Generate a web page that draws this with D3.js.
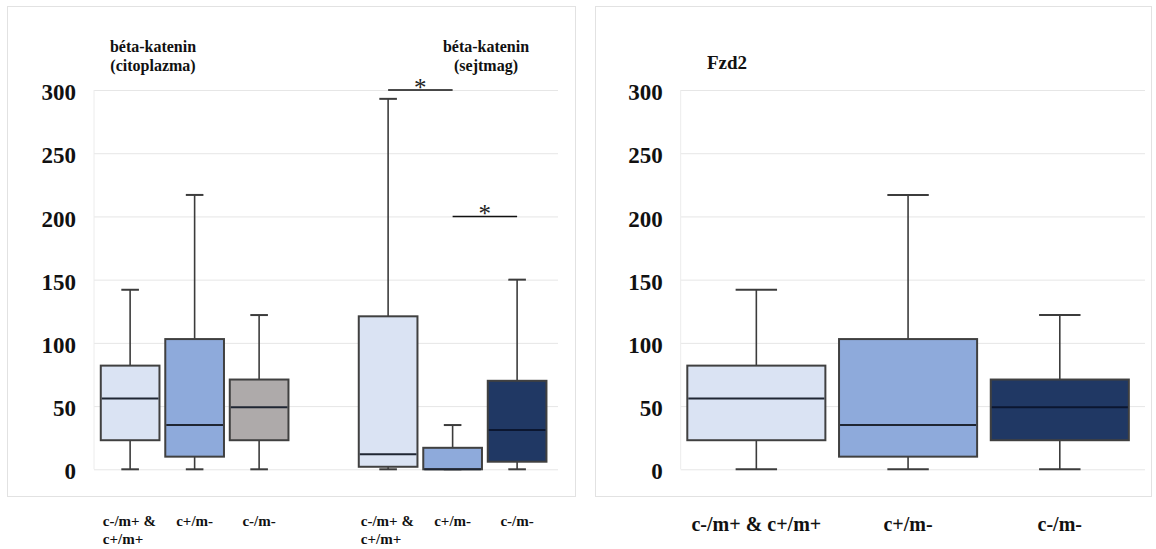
<!DOCTYPE html>
<html>
<head>
<meta charset="utf-8">
<script src="https://d3js.org/d3.v7.min.js"></script>
<style>
  body { margin: 0; background: #fff; }
  svg { display: block; font-family: "Liberation Serif", "Times New Roman", serif; font-weight: bold; }
</style>
</head>
<body>
<svg width="1156" height="549"></svg>
<script>
// ---- data ----
var yTicks = [0, 50, 100, 150, 200, 250, 300];

// left panel: béta-katenin, cytoplasm and nucleus groups
var leftKeys = ["c0", "c1", "c2", "gap", "n0", "n1", "n2"];
var leftBoxKeys = ["c0", "c1", "c2", "n0", "n1", "n2"];
var leftLabels = [["c-/m+ &", "c+/m+"], ["c+/m-"], ["c-/m-"], ["c-/m+ &", "c+/m+"], ["c+/m-"], ["c-/m-"]];
var leftMin = [0, 0, 0, 0, 0, 0];
var leftQ1 = [23, 10, 23, 2, 0, 6];
var leftMed = [56, 35, 49, 12, 0, 31];
var leftQ3 = [82, 103, 71, 121, 17, 70];
var leftMax = [142, 217, 122, 293, 35, 150];
var leftFill = ["#dae3f3", "#8eaadb", "#aeaaaa", "#dae3f3", "#8eaadb", "#203864"];

// significance bars (from box, to box, level)
var sigFrom = ["n0", "n1"];
var sigTo = ["n1", "n2"];
var sigLevel = [300, 200];

// right panel: Fzd2
var rightKeys = ["f0", "f1", "f2"];
var rightLabels = [["c-/m+ & c+/m+"], ["c+/m-"], ["c-/m-"]];
var rightMin = [0, 0, 0];
var rightQ1 = [23, 10, 23];
var rightMed = [56, 35, 49];
var rightQ3 = [82, 103, 71];
var rightMax = [142, 217, 122];
var rightFill = ["#dae3f3", "#8eaadb", "#203864"];

var svg = d3.select("svg");

// panel frames
svg.append("rect").attr("x", 7.5).attr("y", 6.5).attr("width", 568).attr("height", 490)
  .attr("fill", "none").attr("stroke", "#e2e2e2");
svg.append("rect").attr("x", 595.5).attr("y", 6.5).attr("width", 556).attr("height", 490)
  .attr("fill", "none").attr("stroke", "#e2e2e2");

var y = d3.scaleLinear().domain([0, 300]).range([469.3, 90]);

function drawAxis(left, right) {
  var g = svg.append("g")
    .attr("transform", "translate(" + left + ",0)")
    .call(d3.axisLeft(y).tickValues(yTicks).tickSizeInner(-(right - left)).tickSizeOuter(0).tickPadding(18));
  g.select(".domain").remove();
  g.selectAll(".tick line").attr("stroke", "#e6e6e6");
  g.selectAll(".tick text")
    .attr("fill", "#111")
    .attr("font-size", "23px")
    .attr("font-family", "'Liberation Serif', serif")
    .attr("font-weight", "bold")
    .attr("dy", "0.42em");
  // faint left edge of plot area
  svg.append("line").attr("x1", left).attr("x2", left).attr("y1", y(300)).attr("y2", y(0))
    .attr("stroke", "#ececec");
}

function drawBoxes(x, keys, mins, q1s, meds, q3s, maxs, fills) {
  var rows = keys.map(function(k, i) {
    return { key: k, min: mins[i], q1: q1s[i], med: meds[i], q3: q3s[i], max: maxs[i], fill: fills[i] };
  });
  var bw = x.bandwidth();
  var g = svg.append("g");
  var box = g.selectAll("g.box").data(rows).enter().append("g").attr("class", "box");

  // whiskers
  box.append("line")
    .attr("x1", d => x(d.key) + bw / 2).attr("x2", d => x(d.key) + bw / 2)
    .attr("y1", d => y(d.q3)).attr("y2", d => y(d.max))
    .attr("stroke", "#3c3c3c").attr("stroke-width", 1.6);
  box.append("line")
    .attr("x1", d => x(d.key) + bw / 2).attr("x2", d => x(d.key) + bw / 2)
    .attr("y1", d => y(d.q1)).attr("y2", d => y(d.min))
    .attr("stroke", "#3c3c3c").attr("stroke-width", 1.6);
  // caps
  box.append("line")
    .attr("x1", d => x(d.key) + bw * 0.35).attr("x2", d => x(d.key) + bw * 0.65)
    .attr("y1", d => y(d.max)).attr("y2", d => y(d.max))
    .attr("stroke", "#3c3c3c").attr("stroke-width", 2);
  box.append("line")
    .attr("x1", d => x(d.key) + bw * 0.35).attr("x2", d => x(d.key) + bw * 0.65)
    .attr("y1", d => y(d.min)).attr("y2", d => y(d.min))
    .attr("stroke", "#3c3c3c").attr("stroke-width", 2);
  // box
  box.append("rect")
    .attr("x", d => x(d.key)).attr("width", bw)
    .attr("y", d => y(d.q3)).attr("height", d => y(d.q1) - y(d.q3))
    .attr("fill", d => d.fill)
    .attr("stroke", "#404040").attr("stroke-width", 2);
  // median
  box.append("line")
    .attr("x1", d => x(d.key) + 1).attr("x2", d => x(d.key) + bw - 1)
    .attr("y1", d => y(d.med)).attr("y2", d => y(d.med))
    .attr("stroke", d => d.fill === "#203864" ? "#0b1630" : "#1f2633").attr("stroke-width", 2);
}

function drawLabels(x, keys, labels, size, baseY, lineH) {
  keys.forEach(function(k, i) {
    var lines = labels[i];
    var twoLine = lines.length > 1;
    var t = svg.append("text")
      .attr("font-size", size + "px")
      .attr("fill", "#111")
      .attr("text-anchor", twoLine ? "start" : "middle");
    lines.forEach(function(l, j) {
      t.append("tspan")
        .attr("x", twoLine ? x(k) + 2 : x(k) + x.bandwidth() / 2)
        .attr("y", baseY + j * lineH)
        .text(l);
    });
  });
}

// ---------- left panel ----------
var xL = d3.scaleBand().domain(leftKeys).range([94, 558])
  .paddingInner(0.09).paddingOuter(0.142).align(0.37);
drawAxis(94, 558);
drawBoxes(xL, leftBoxKeys, leftMin, leftQ1, leftMed, leftQ3, leftMax, leftFill);
drawLabels(xL, leftBoxKeys, leftLabels, 15, 526, 18);

// significance bars
sigFrom.forEach(function(f, i) {
  var x1 = xL(f) + xL.bandwidth() / 2;
  var x2 = xL(sigTo[i]) + xL.bandwidth() / 2;
  svg.append("line").attr("x1", x1).attr("x2", x2)
    .attr("y1", y(sigLevel[i])).attr("y2", y(sigLevel[i]))
    .attr("stroke", "#111").attr("stroke-width", 1.6);
  svg.append("text").attr("x", (x1 + x2) / 2).attr("y", y(sigLevel[i]) + 6)
    .attr("text-anchor", "middle").attr("font-size", "25px").attr("font-weight", "normal")
    .attr("fill", "#222").text("*");
});

// group titles
var titleL = svg.append("text").attr("font-size", "16px").attr("text-anchor", "middle").attr("fill", "#111");
titleL.append("tspan").attr("x", 153).attr("y", 52).text("béta-katenin");
titleL.append("tspan").attr("x", 153).attr("y", 71).text("(citoplazma)");
var titleN = svg.append("text").attr("font-size", "16px").attr("text-anchor", "middle").attr("fill", "#111");
titleN.append("tspan").attr("x", 486).attr("y", 52).text("béta-katenin");
titleN.append("tspan").attr("x", 486).attr("y", 71).text("(sejtmag)");

// ---------- right panel ----------
var xR = d3.scaleBand().domain(rightKeys).range([680.7, 1145])
  .paddingInner(0.09).paddingOuter(0.075).align(0.29);
drawAxis(680.7, 1145);
drawBoxes(xR, rightKeys, rightMin, rightQ1, rightMed, rightQ3, rightMax, rightFill);
drawLabels(xR, rightKeys, rightLabels, 20, 531, 20);

svg.append("text").attr("x", 707).attr("y", 69).attr("font-size", "19px").attr("fill", "#111").text("Fzd2");
</script>
</body>
</html>
